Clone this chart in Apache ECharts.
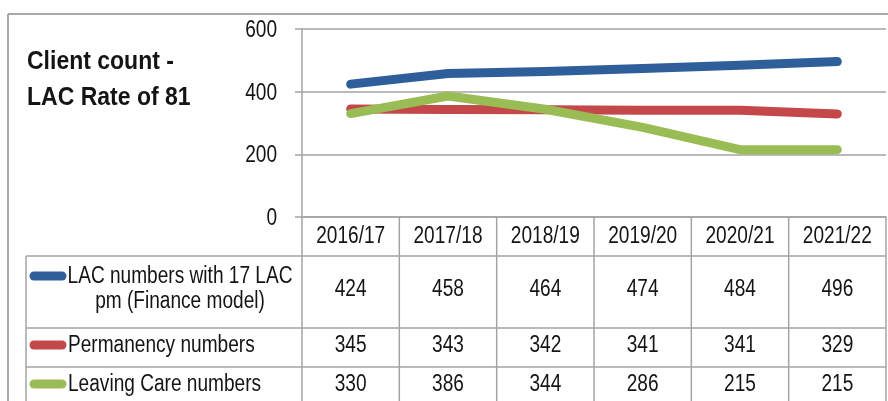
<!DOCTYPE html>
<html><head><meta charset="utf-8">
<script src="https://cdn.jsdelivr.net/npm/echarts@6/dist/echarts.min.js"></script>
<style>html,body{margin:0;padding:0;background:#fff}#c{width:888px;height:401px}</style>
</head><body><div id="c"></div>
<script>
// ---- data ----
const categories = ['2016/17','2017/18','2018/19','2019/20','2020/21','2021/22'];
const seriesNames = ['LAC numbers with 17 LAC pm (Finance model)','Permanency numbers','Leaving Care numbers'];
const rowLabels = ['LAC numbers with 17 LAC\npm (Finance model)','Permanency numbers','Leaving Care numbers'];
const lacNumbers = [424,458,464,474,484,496];
const permanencyNumbers = [345,343,342,341,341,329];
const leavingCareNumbers = [330,386,344,286,215,215];
const yTicks = [0,200,400,600];
const titleText = 'Client count -\nLAC Rate of 81';

// ---- style ----
const colors = ['#2f5f9a','#c4474a','#99bd54'];
const FONT = '"Liberation Sans",Arial,sans-serif';
const SX = 0.83;          // narrow (condensed) look of the original text
const GRID_C = '#a3a3a3';
const TXT = '#141414';

const chart = echarts.init(document.getElementById('c'), null, {renderer:'canvas'});
const allSeries = [lacNumbers, permanencyNumbers, leavingCareNumbers];

chart.setOption({
  animation:false,
  backgroundColor:'#fff',
  grid:{left:302,right:2,top:29,bottom:184,containLabel:false,outerBoundsMode:'none'},
  xAxis:{type:'category',data:categories,boundaryGap:true,
    axisLine:{show:true,lineStyle:{color:GRID_C,width:1.5}},
    axisTick:{show:false},
    axisLabel:{show:false}},
  yAxis:{type:'value',min:yTicks[0],max:yTicks[yTicks.length-1],interval:yTicks[1]-yTicks[0],
    axisLine:{show:true,lineStyle:{color:GRID_C,width:1.5}},
    axisTick:{show:true,length:7,lineStyle:{color:GRID_C,width:1.5}},
    splitLine:{show:true,lineStyle:{color:GRID_C,width:1.5}},
    axisLabel:{show:false}},
  series: allSeries.map((d,i)=>({
    name:seriesNames[i],type:'line',data:d,showSymbol:false,symbol:'none',
    lineStyle:{color:colors[i],width:9,cap:'round',join:'round'},
    itemStyle:{color:colors[i]}, z:2+i
  }))
});

// ---- positions from the axis scales ----
const centers = categories.map(c=>chart.convertToPixel({xAxisIndex:0}, c));
const bw = centers[1]-centers[0];
const bounds = [];
for (let k=0;k<=categories.length;k++) bounds.push(centers[0]-bw/2+k*bw);
const y0 = chart.convertToPixel({yAxisIndex:0}, 0);
const axisX = bounds[0];
const rowEdges = [y0+39, y0+111, y0+150];
const rowTextY = [y0+60, y0+129, y0+168];
const valueY = [y0+73, y0+129, y0+168];
const tableLeft = 26;
const H = 401;

function txt(str, x, y, opt) {
  opt = opt || {};
  return {type:'text', x:x, y:y, scaleX:opt.sx||SX, silent:true,
    style:{text:str, x:0, y:0, align:opt.align||'center', verticalAlign:'middle',
      fontFamily:FONT, fontSize:opt.size||23, fontWeight:opt.weight||'normal',
      lineHeight:opt.lh||undefined, fill:TXT}};
}

const lineStyle = {stroke:GRID_C,lineWidth:1.5};
const g = [];
// outer chart border
g.push({type:'line',shape:{x1:8,y1:14,x2:888,y2:14},style:{stroke:'#a8a8a8',lineWidth:2},silent:true});
g.push({type:'line',shape:{x1:8,y1:14,x2:8,y2:H},style:{stroke:'#a8a8a8',lineWidth:2},silent:true});
// title
g.push({type:'text', x:27, y:44, scaleX:0.92, silent:true,
  style:{text:titleText, x:0, y:0, align:'left', verticalAlign:'top', fontFamily:FONT,
    fontSize:25, fontWeight:'bold', lineHeight:36, fill:TXT}});
// y tick labels
yTicks.forEach(v=>{
  const py = chart.convertToPixel({yAxisIndex:0}, v);
  g.push(txt(String(v), axisX-25, py+1.5, {align:'right'}));
});
// category header labels
categories.forEach((c,j)=>g.push(txt(c, centers[j], y0+20)));
// horizontal table lines
rowEdges.forEach(ry=>g.push({type:'line',shape:{x1:tableLeft,y1:ry,x2:bounds[bounds.length-1],y2:ry},style:lineStyle,silent:true}));
// vertical table lines
bounds.forEach(b=>g.push({type:'line',shape:{x1:b,y1:y0,x2:b,y2:H},style:lineStyle,silent:true}));
g.push({type:'line',shape:{x1:tableLeft,y1:rowEdges[0],x2:tableLeft,y2:H},style:lineStyle,silent:true});
// legend keys + row labels
rowLabels.forEach((lab,i)=>{
  const ky = rowTextY[i]-1;
  g.push({type:'line',shape:{x1:34,y1:ky,x2:62,y2:ky},style:{stroke:colors[i],lineWidth:9,lineCap:'round'},silent:true});
  if (i===0) {
    g.push(txt(lab, 180, rowTextY[0]+12.5, {align:'center', lh:25}));
  } else {
    g.push(txt(lab, 68, rowTextY[i], {align:'left'}));
  }
});
// table values
allSeries.forEach((d,i)=>{
  d.forEach((v,j)=>g.push(txt(String(v), centers[j], valueY[i])));
});
chart.setOption({graphic:g});
</script></body></html>
